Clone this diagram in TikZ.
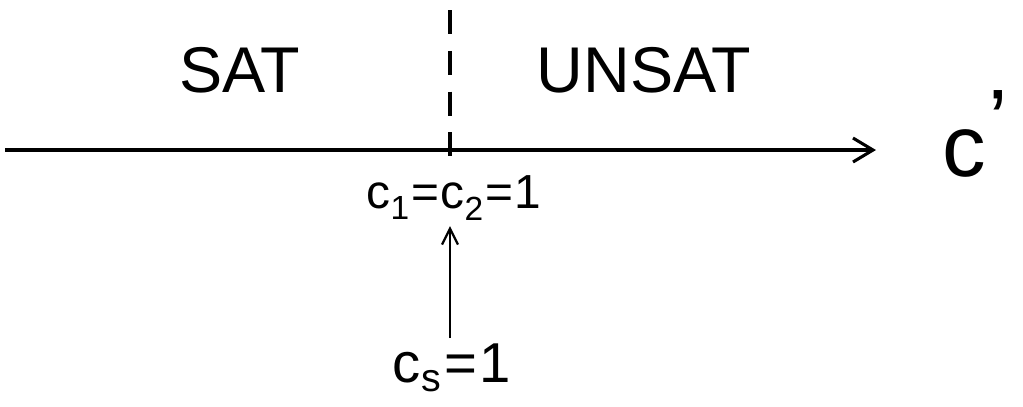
\documentclass[tikz,border=0pt]{standalone}
\usepackage{fontspec}
\setmainfont{Liberation Sans}
\usetikzlibrary{arrows.meta,positioning}
\definecolor{Ink}{RGB}{0,0,0}
\tikzset{
  axisline/.style={-{Straight Barb[length=5mm,width=6mm,line width=2.2pt]},line width=2.6pt,draw=Ink},
  border/.style={line width=3.4pt,draw=Ink,dash pattern=on 0.6cm off 0.42cm},
  push/.style={-{Straight Barb[length=4mm,width=4mm,line width=1.6pt]},line width=2pt,draw=Ink,shorten >=2pt,shorten <=2pt},
  region/.style={font=\fontsize{46}{50}\selectfont,text=Ink,inner sep=0pt},
  value/.style={font=\fontsize{34}{38}\selectfont,text=Ink,inner sep=2pt}
}
\begin{document}
\begin{tikzpicture}[x=1cm,y=1cm]
  \useasboundingbox (0,0) rectangle (25.575,-10.15);
  \coordinate (left) at (0.125,-3.75);
  \node[region,anchor=west,font=\fontsize{62}{66}\selectfont] (cprime) at (23.55,-3.35) {c\raisebox{0.55ex}{\kern2pt\textquoteright}};
  \draw[axisline] (left) -- (21.9,-3.75);
  \coordinate (top) at (11.25,-0.25);
  \coordinate (bottom) at (11.25,-4.0);
  \draw[border] (top) -- (bottom);
  \node[region] (sat) at (6.0,-1.75) {SAT};
  \node[region] (unsat) at (16.1,-1.75) {UNSAT};
  \node[value] (ceq) at (11.35,-4.95) {c\textsubscript{1}\kern1pt=\kern1pt c\textsubscript{2}\kern1pt=\kern1pt 1};
  \node[value,font=\fontsize{40}{44}\selectfont] (cs) at (11.3,-9.2) {c\textsubscript{s}\kern2pt=\kern2pt 1};
  \draw[push] (cs.north -| 11.25,0) -- (ceq.south -| 11.25,0);
\end{tikzpicture}
\end{document}
